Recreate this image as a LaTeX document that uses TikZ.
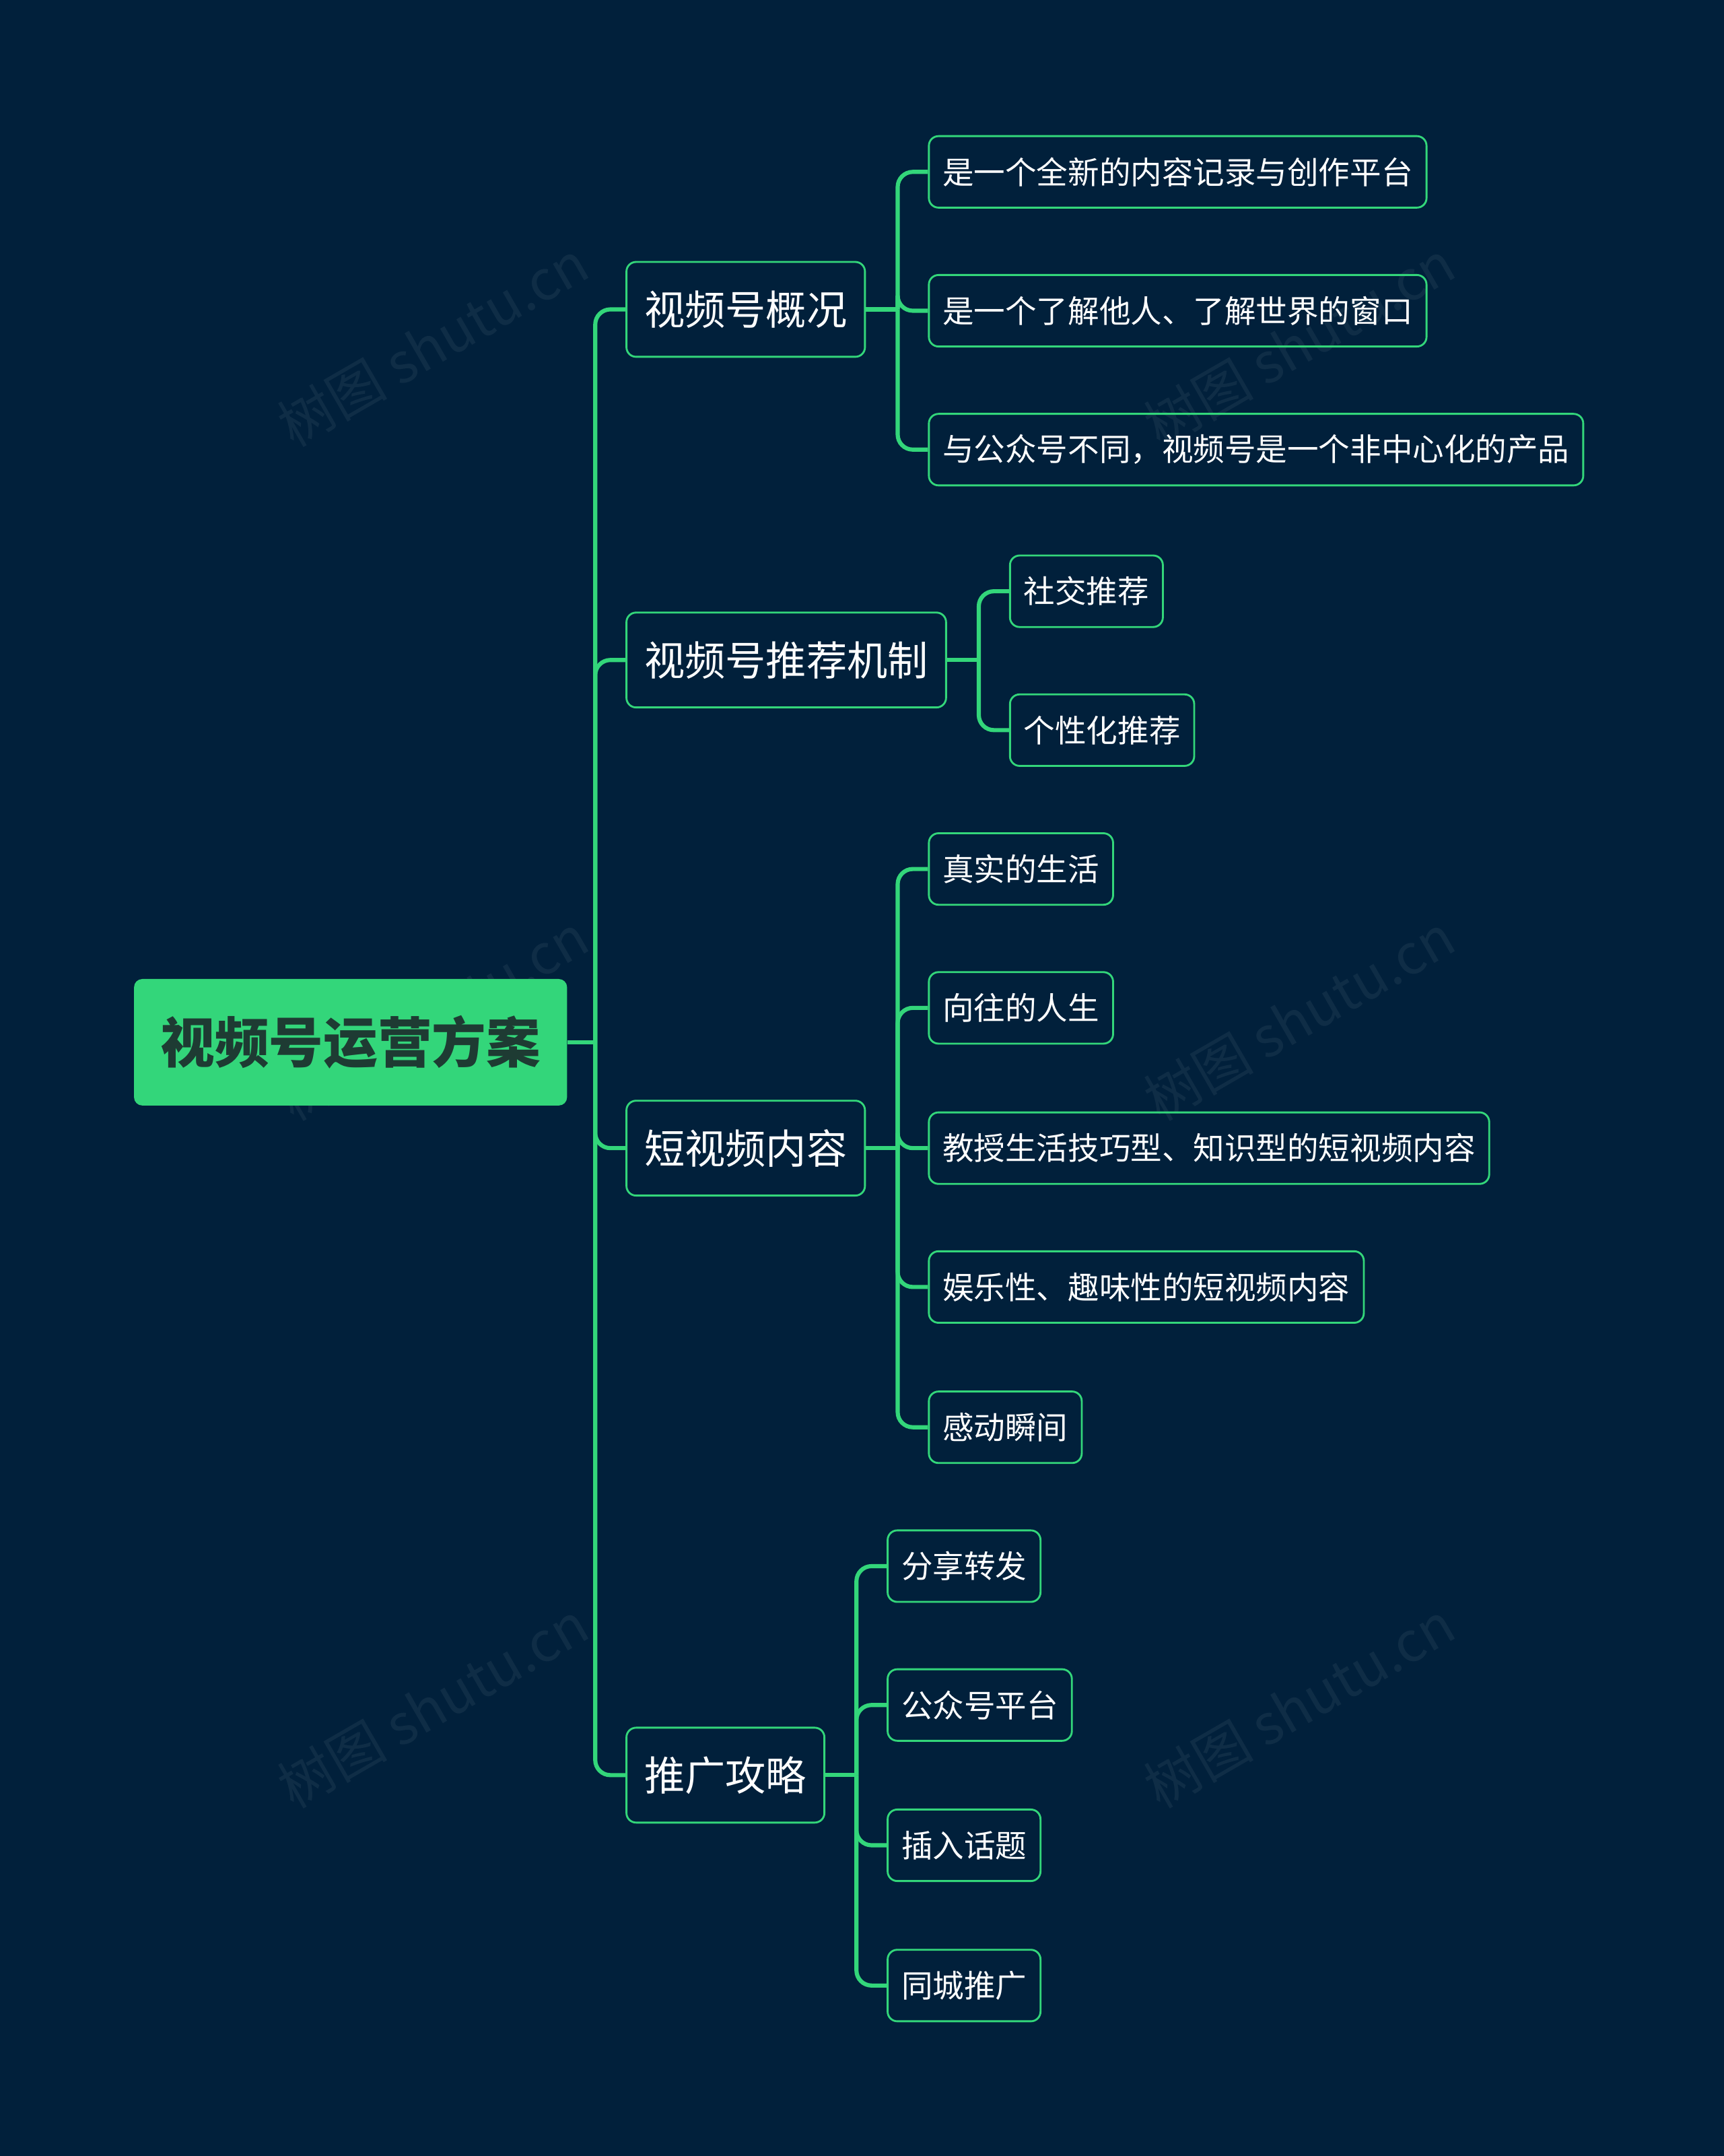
\documentclass[tikz,border=0pt]{standalone}
\usepackage{fontspec}
\setmainfont{Noto Sans CJK SC}
\usetikzlibrary{positioning}
\definecolor{bgnavy}{HTML}{01203B}
\definecolor{mintgreen}{HTML}{33D67A}
\definecolor{rootink}{HTML}{1E3B33}
\begin{document}
\begin{tikzpicture}[x=1pt,y=-1pt,
    rootbox/.style={fill=mintgreen,rounded corners=6pt,minimum width=315pt,minimum height=92pt,
                    font=\fontsize{39.5}{41}\selectfont\bfseries,text=rootink},
    topic/.style={draw=mintgreen,line width=1.4pt,rounded corners=7pt,anchor=west,
                  minimum height=69pt,inner xsep=13pt,text=white,font=\fontsize{29.5}{31}\selectfont},
    leaf/.style={draw=mintgreen,line width=1.4pt,rounded corners=7pt,anchor=west,
                 minimum height=52pt,inner xsep=10pt,text=white,font=\fontsize{22.8}{24}\selectfont},
    link/.style={draw=mintgreen,line width=3pt,rounded corners=11pt},
    wmark/.style={text=white,opacity=0.06,rotate=30,font=\fontsize{40}{40}\selectfont}]

  \fill[bgnavy] (0,0) rectangle (1254,1568);
  \useasboundingbox (0,0) rectangle (1254,1568);

  % watermarks
  \foreach \wx/\wy/\wid in {315/250/wa,945/250/wb,315/740/wc,945/740/wd,315/1240/we,945/1240/wf}
    \node[wmark] (\wid) at (\wx,\wy) {树图 shutu.cn};

  \node[rootbox] (root) at (255,758) {视频号运营方案};

  \node[topic] (gk) at (455,225)  {视频号概况};
  \node[topic] (tj) at (455,480)  {视频号推荐机制};
  \node[topic] (nr) at (455,835)  {短视频内容};
  \node[topic] (tg) at (455,1291) {推广攻略};

  \node[leaf] (gk1) at (675,125) {是一个全新的内容记录与创作平台};
  \node[leaf] (gk2) at (675,226) {是一个了解他人、了解世界的窗口};
  \node[leaf] (gk3) at (675,327) {与公众号不同，视频号是一个非中心化的产品};

  \node[leaf] (tj1) at (734,430) {社交推荐};
  \node[leaf] (tj2) at (734,531) {个性化推荐};

  \node[leaf] (nr1) at (675,632)  {真实的生活};
  \node[leaf] (nr2) at (675,733)  {向往的人生};
  \node[leaf] (nr3) at (675,835)  {教授生活技巧型、知识型的短视频内容};
  \node[leaf] (nr4) at (675,936)  {娱乐性、趣味性的短视频内容};
  \node[leaf] (nr5) at (675,1038) {感动瞬间};

  \node[leaf] (tg1) at (645,1139) {分享转发};
  \node[leaf] (tg2) at (645,1240) {公众号平台};
  \node[leaf] (tg3) at (645,1342) {插入话题};
  \node[leaf] (tg4) at (645,1444) {同城推广};

  % trunk
  \coordinate (rt) at (433,758);
  \draw[link] (root.east) -- (rt);
  \foreach \c in {gk,tj,nr,tg}
    \draw[link] (rt) |- (\c.west);

  % branches
  \coordinate (gkj) at (653,225);
  \draw[link] (gk.east) -- (gkj);
  \foreach \c in {gk1,gk2,gk3}
    \draw[link] (gkj) |- (\c.west);

  \coordinate (tjj) at (712,480);
  \draw[link] (tj.east) -- (tjj);
  \foreach \c in {tj1,tj2}
    \draw[link] (tjj) |- (\c.west);

  \coordinate (nrj) at (653,835);
  \draw[link] (nr.east) -- (nrj);
  \foreach \c in {nr1,nr2,nr3,nr4,nr5}
    \draw[link] (nrj) |- (\c.west);

  \coordinate (tgj) at (623,1291);
  \draw[link] (tg.east) -- (tgj);
  \foreach \c in {tg1,tg2,tg3,tg4}
    \draw[link] (tgj) |- (\c.west);

\end{tikzpicture}
\end{document}
